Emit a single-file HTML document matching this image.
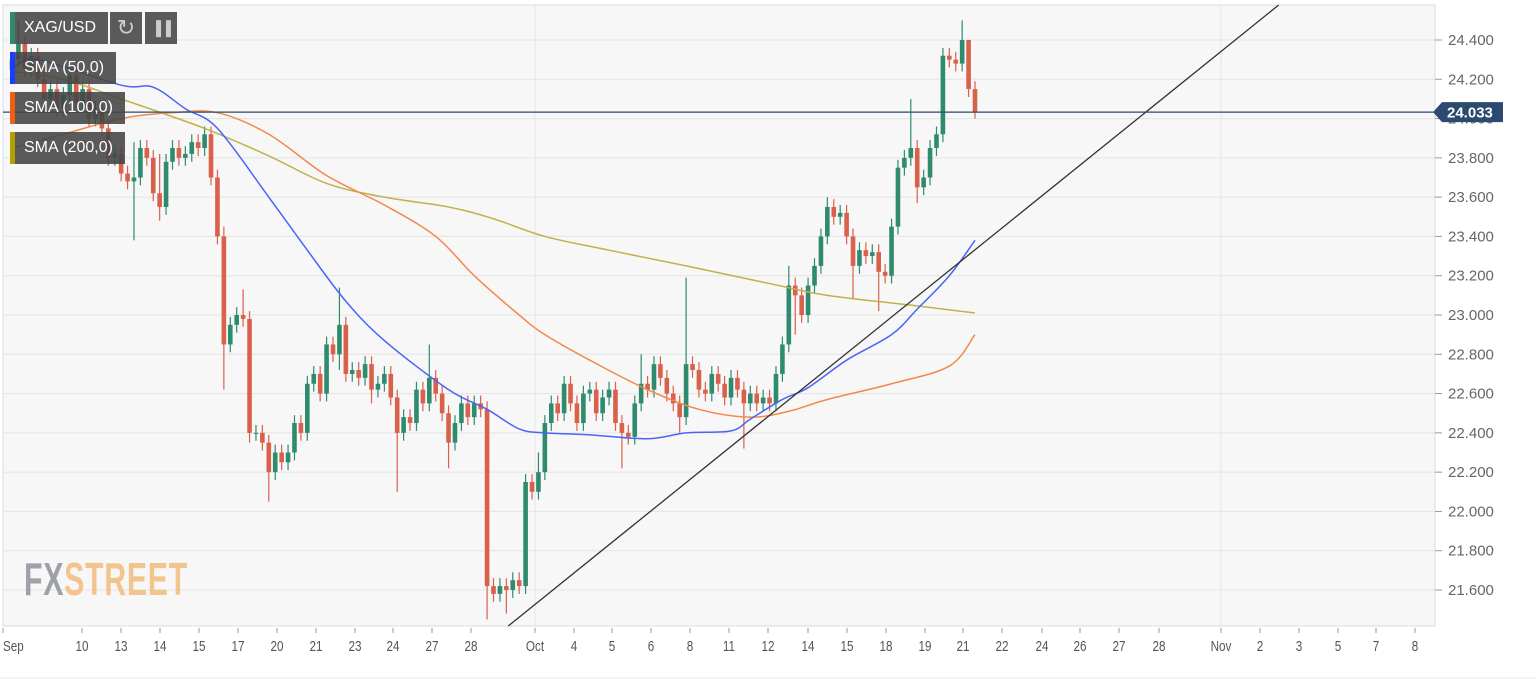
<!DOCTYPE html>
<html><head><meta charset="utf-8"><style>
body{margin:0;width:1536px;height:684px;background:#fff;overflow:hidden;font-family:"Liberation Sans",sans-serif}
svg{position:absolute;left:0;top:0}
.box{position:absolute;background:rgba(68,68,68,0.88);color:#fff;font-size:16px;line-height:32px;height:32px;padding-left:14px;box-sizing:border-box}
.bar{position:absolute;left:0;top:0;width:5px;height:32px}
</style></head><body>
<svg id="chart" width="1536" height="684" xmlns="http://www.w3.org/2000/svg"></svg>
<div class="box" style="left:10px;top:12px;width:98px">XAG/USD<div class="bar" style="background:#2e8b6e"></div></div>
<div class="box" style="left:110px;top:12px;width:32px;padding:0;text-align:center;font-size:22px;color:#ccc">&#x21bb;</div>
<div class="box" style="left:145px;top:12px;width:32px;padding:0;text-align:center;font-size:14px;color:#ccc">&#x2590;&#x2590;</div>
<div class="box" style="left:10px;top:52px;width:106px">SMA (50,0)<div class="bar" style="background:#1a3cff"></div></div>
<div class="box" style="left:10px;top:92px;width:115px">SMA (100,0)<div class="bar" style="background:#f06010"></div></div>
<div class="box" style="left:10px;top:132px;width:115px">SMA (200,0)<div class="bar" style="background:#b0a000"></div></div>
<div style="position:absolute;left:24px;top:552px;font-size:46px;font-weight:bold;letter-spacing:1px;transform:scaleX(0.66);transform-origin:left;opacity:0.85"><span style="color:#8f939b">FX</span><span style="color:#f2bd7c">STREET</span></div>
<script>
const closes=[24.30,24.38,24.25,24.32,24.20,24.10,24.15,24.05,24.12,24.22,24.08,24.15,24.00,24.05,23.95,
23.80,23.82,23.72,23.68,23.70,23.85,23.80,23.62,23.55,23.78,23.85,23.80,23.82,23.88,23.85,23.92,
23.70,23.40,22.85,22.95,23.00,22.98,22.40,22.40,22.35,22.20,22.30,22.25,22.30,22.45,22.40,22.65,22.70,22.60,22.85,22.80,
22.95,22.70,22.72,22.68,22.75,22.62,22.65,22.70,22.58,22.40,22.48,22.45,22.62,22.55,22.68,22.60,
22.50,22.35,22.45,22.55,22.48,22.55,22.52,21.62,21.58,21.62,21.60,21.65,21.62,
22.15,22.10,22.20,22.45,22.55,22.50,22.65,22.55,22.45,22.60,22.62,22.50,22.58,22.62,22.45,22.40,22.38,22.55,
22.65,22.62,22.75,22.68,22.60,22.55,22.48,22.75,22.72,22.62,22.60,22.70,22.65,22.58,22.68,22.62,22.55,22.60,22.55,22.58,22.55,
22.70,22.85,23.15,23.10,23.00,23.15,23.25,23.40,23.55,23.50,23.52,23.40,23.25,23.33,23.30,23.32,23.22,23.20,
23.45,23.75,23.80,23.85,23.65,23.70,23.85,23.92,24.32,24.30,24.28,24.40,24.15,24.03];
const firstOpen=24.25;
const highWicks=[[1,24.50],[9,24.28],[19,23.88],[23,23.82],[30,23.96],[33,23.45],[36,23.13],[51,23.14],[60,22.62],[65,22.85],[82,22.30],[98,22.80],[105,23.19],[121,23.25],[127,23.60],[140,24.10],[148,24.50],[149,24.30]];
const lowWicks=[[19,23.38],[23,23.48],[33,22.62],[37,22.35],[40,22.05],[51,22.72],[56,22.55],[60,22.10],[68,22.22],[74,21.45],[77,21.48],[95,22.22],[104,22.40],[114,22.32],[122,22.90],[131,23.08],[135,23.02],[141,23.57],[150,24.00]];
const sma50=[[0,24.25],[4,24.30],[17,24.17],[22,24.16],[27,24.05],[32,23.95],[40,23.60],[46,23.33],[52,23.07],[58,22.87],[68,22.62],[74,22.52],[79,22.42],[83,22.40],[90,22.39],[99,22.37],[105,22.40],[112,22.41],[115,22.47],[120,22.57],[124,22.63],[130,22.77],[137,22.90],[141,23.03],[146,23.20],[150,23.38]];
const sma100=[[0,23.85],[8,23.92],[17,24.00],[25,24.03],[32,24.03],[40,23.92],[49,23.71],[58,23.56],[66,23.40],[72,23.20],[79,23.00],[83,22.90],[90,22.77],[99,22.62],[107,22.52],[115,22.48],[121,22.51],[127,22.57],[137,22.65],[146,22.74],[150,22.90]];
const sma200=[[0,24.24],[8,24.20],[17,24.10],[30,23.95],[40,23.81],[49,23.67],[58,23.60],[68,23.55],[75,23.49],[83,23.40],[93,23.33],[105,23.25],[118,23.16],[127,23.10],[140,23.05],[150,23.01]];
const trend=[[77.3,21.417],[197.3,24.578]];
const lastPrice=24.033;
const priceTicks=[24.4,24.2,24.0,23.8,23.6,23.4,23.2,23.0,22.8,22.6,22.4,22.2,22.0,21.8,21.6];
const dateLabels=["Sep","10","13","14","15","17","20","21","23","24","27","28","Oct","4","5","6","8","11","12","14","15","18","19","21","22","24","26","27","28","Nov","2","3","5","7","8"];
const dateX=[3,82,121,160,199,238,277,316,355,393,432,471,535,574,612,651,690,729,768,808,847,886,925,963,1002,1042,1080,1119,1159,1221,1260,1299,1338,1376,1415];

const svg=document.getElementById('chart');const NS='http://www.w3.org/2000/svg';
const L=3,R=1435,T=5,B=626;
const y=v=>40+(24.4-v)*196.43;
const step=6.42;
const x=i=>12+i*step;
function mk(tag,at,name){const e=document.createElementNS(NS,tag);for(const k in at)e.setAttribute(k,at[k]);


svg.appendChild(e);return e;}
mk('rect',{x:L,y:T,width:R-L,height:B-T,fill:'#f7f7f7',stroke:'#d5dce8'},'plot-area');
priceTicks.forEach(v=>{mk('line',{x1:L,x2:R,y1:y(v),y2:y(v),stroke:'#e4e4e4'},'grid-line');
mk('line',{x1:R,x2:R+7,y1:y(v),y2:y(v),stroke:'#999'},'y-tick');
const t=mk('text',{x:1448,y:y(v)+5,fill:'#666','font-size':15},'y-tick-label');t.textContent=v.toFixed(3);});
[535,1221].forEach(px=>mk('line',{x1:px,x2:px,y1:T,y2:B,stroke:'#e4e4e4'},'grid-line-vertical'));
dateLabels.forEach((d,i)=>{const px=dateX[i];mk('line',{x1:px,x2:px,y1:B+2,y2:B+7,stroke:'#999'},'x-tick');
const t=mk('text',{x:px,y:651,fill:'#555','font-size':15,'text-anchor':i==0?'start':'middle',transform:`translate(${px} 0) scale(0.78 1) translate(${-px} 0)`},'x-tick-label');t.textContent=d;});
mk('line',{x1:0,x2:1536,y1:678,y2:678,stroke:'#e6e9ef'},'bottom-border');
function smooth(pts,col,name,w){const P=pts.map(p=>[x(p[0]),y(p[1])]);let d='M'+P[0][0]+','+P[0][1];
for(let i=0;i<P.length-1;i++){const p0=P[Math.max(0,i-1)],p1=P[i],p2=P[i+1],p3=P[Math.min(P.length-1,i+2)];
d+=` C${p1[0]+(p2[0]-p0[0])/6},${p1[1]+(p2[1]-p0[1])/6} ${p2[0]-(p3[0]-p1[0])/6},${p2[1]-(p3[1]-p1[1])/6} ${p2[0]},${p2[1]}`;}
mk('path',{d:d,fill:'none',stroke:col,'stroke-width':w||1.5},name);}
const hi={},lo={};highWicks.forEach(p=>hi[p[0]]=p[1]);lowWicks.forEach(p=>lo[p[0]]=p[1]);
closes.forEach((c,i)=>{const o=i?closes[i-1]:firstOpen;const up=c>=o;const col=up?'#2e8b6e':'#d9604a';
const h=hi[i]!==undefined?hi[i]:Math.max(o,c)+0.04;const l=lo[i]!==undefined?lo[i]:Math.min(o,c)-0.04;
mk('line',{x1:x(i),x2:x(i),y1:y(h),y2:y(l),stroke:col,'stroke-width':1.2},'candle-wick');
const top=y(Math.max(o,c)),bh=Math.max(1,Math.abs(y(o)-y(c)));
mk('rect',{x:x(i)-2.3,y:top,width:4.6,height:bh,fill:col},'candle-body');});
smooth(sma200,'#bfb24a','sma-200-line');
smooth(sma100,'#f3884a','sma-100-line');
smooth(sma50,'#4a64f5','sma-50-line');
mk('line',{x1:x(trend[0][0]),y1:y(trend[0][1]),x2:x(trend[1][0]),y2:y(trend[1][1]),stroke:'#333','stroke-width':1.3},'trend-line');
mk('line',{x1:L,x2:R,y1:y(lastPrice),y2:y(lastPrice),stroke:'#2c4a6e','stroke-width':1.3},'last-price-line');
const ly=y(lastPrice);
mk('polygon',{points:`1433,${ly} 1442,${ly-10} 1503,${ly-10} 1503,${ly+10} 1442,${ly+10}`,fill:'#2c4a6e'},'last-price-tag');
const t=mk('text',{x:1447,y:ly+5.5,fill:'#fff','font-size':15,'font-weight':'bold'},'last-price-label');t.textContent=lastPrice.toFixed(3);
</script>
</body></html>
